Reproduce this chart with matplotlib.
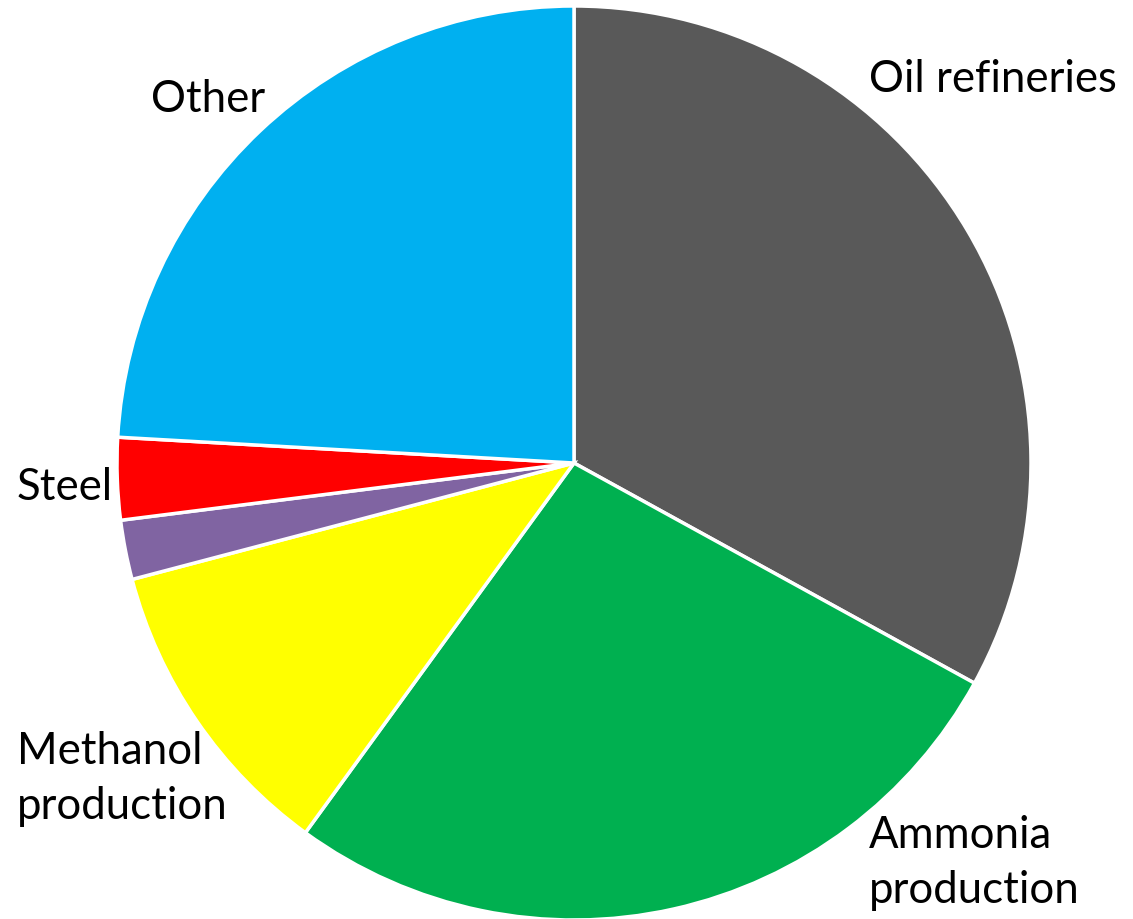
import matplotlib
matplotlib.use("Agg")
import matplotlib.pyplot as plt

# shares of hydrogen demand (percent)
sectors = ["Oil refineries", "Ammonia\nproduction", "Methanol\nproduction", "", "Steel", "Other"]
shares = [33.0, 27.0, 10.9, 2.1, 2.9, 24.1]
colors = ["#595959", "#00B050", "#FFFF00", "#8064A2", "#FF0000", "#00B0F0"]

W, H = 1133, 919
fig = plt.figure(figsize=(W / 100, H / 100), dpi=100)
ax = fig.add_axes([0, 0, 1, 1])

ax.pie(shares, colors=colors, startangle=90, counterclock=False,
       center=(574, H - 463), radius=457, frame=True,
       wedgeprops=dict(edgecolor="white", linewidth=2.5))
ax.set_xlim(0, W)
ax.set_ylim(0, H)
ax.set_aspect("equal")
ax.axis("off")

# label positions (pixel coords, left edge / vertical centre)
label_pos = {
    "Oil refineries": (869, 79),
    "Ammonia\nproduction": (869, 863),
    "Methanol\nproduction": (17, 779),
    "Steel": (17, 487),
    "Other": (151, 99),
}
for name, (x, y) in label_pos.items():
    ax.text(x, H - y, name, fontsize=31.5, family="Lato", ha="left", va="center",
            linespacing=1.42, color="black")

fig.savefig("out.png", dpi=100)
